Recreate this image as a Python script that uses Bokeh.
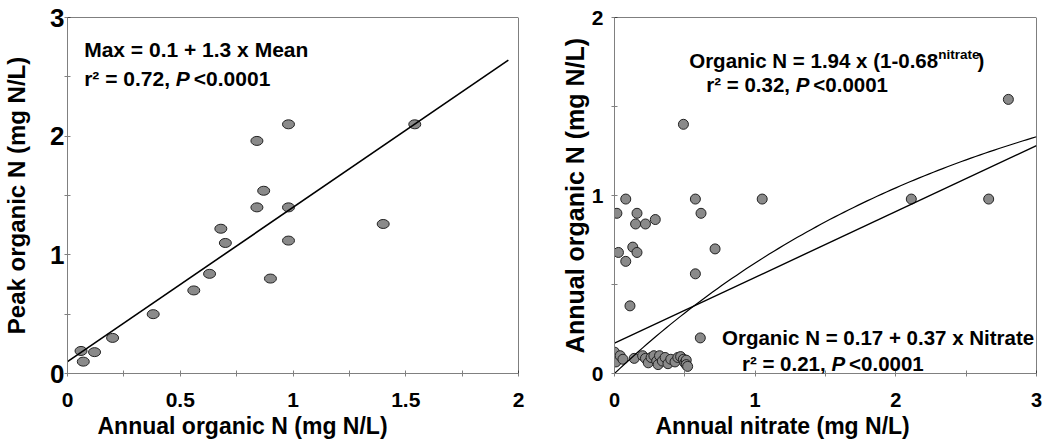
import numpy as np
from bokeh.plotting import figure
from bokeh.layouts import row
from bokeh.models import Label, Span, FixedTicker, NumeralTickFormatter, Title
from bokeh.embed import file_html
from bokeh.resources import INLINE

FONT = "Liberation Sans"

# ---------------- Left panel: annual mean vs. peak organic N ----------------
mean_org = [0.06, 0.07, 0.12, 0.20, 0.38, 0.56, 0.63, 0.68, 0.70, 0.84,
            0.87, 0.84, 0.90, 0.98, 0.98, 0.98, 1.40, 1.54]
peak_org = [0.19, 0.10, 0.18, 0.30, 0.50, 0.70, 0.84, 1.22, 1.10, 1.96,
            1.54, 1.40, 0.80, 2.10, 1.40, 1.12, 1.26, 2.10]
max_intercept, max_slope = 0.1, 1.3
max_fit_x = [0.0, 1.955]

left_x_ticks = [0, 0.5, 1, 1.5, 2]
left_x_minor = [0.25, 0.75, 1.25, 1.75]
left_y_ticks = [0, 1, 2, 3]
left_y_minor = [0.5, 1.5, 2.5]

# ---------------- Right panel: annual nitrate vs. annual organic N ----------------
nitrate = [0.017, 0.028, 0.08, 0.08, 0.11, 0.13, 0.16, 0.16, 0.15, 0.22,
           0.29, 0.49, 0.575, 0.615, 0.575, 0.61, 0.715, 1.05, 2.11, 2.66, 2.80,
           0.00, 0.01, 0.04, 0.06, 0.14, 0.20, 0.22, 0.24, 0.26, 0.28,
           0.30, 0.31, 0.32, 0.34, 0.36, 0.38, 0.40, 0.43, 0.45, 0.47,
           0.49, 0.50, 0.51, 0.51, 0.52]
annual_org = [0.90, 0.68, 0.98, 0.63, 0.38, 0.71, 0.68, 0.90, 0.84, 0.84,
              0.865, 1.40, 0.98, 0.90, 0.56, 0.20, 0.70, 0.98, 0.98, 0.98, 1.54,
              0.12, 0.065, 0.10, 0.08, 0.085, 0.10, 0.085, 0.06, 0.09, 0.10,
              0.07, 0.05, 0.10, 0.07, 0.09, 0.055, 0.08, 0.065, 0.09, 0.095,
              0.08, 0.06, 0.075, 0.05, 0.04]
lin_intercept, lin_slope = 0.17, 0.37
exp_scale, exp_base = 1.94, 0.68
fit_x_span = [0.0, 3.0]

right_x_ticks = [0, 1, 2, 3]
right_x_minor = [0.5, 1.5, 2.5]
right_y_ticks = [0, 1, 2]
right_y_minor = [0.5, 1.5]

AXIS_GREY = "#808080"
MARK_FILL = "#8a8a8a"
MARK_LINE = "#222222"

# Arial / Liberation Sans Bold advance widths (1/1000 em) used to chain text runs
ADV = {' ': 278, 'r': 389, '\u00b2': 333, '=': 584, '.': 278, ',': 278, '<': 584,
       'P': 667, '(': 333, ')': 333, '-': 333, 'x': 556, '+': 584, 'O': 778,
       'g': 611, 'a': 556, 'n': 611, 'i': 278, 'c': 556, 'N': 722, 't': 333,
       'e': 556, 'M': 833}
for d in "0123456789":
    ADV[d] = 556


def run_width(s, size):
    return sum(ADV.get(c, 556) for c in s) * size / 1000.0


def add_runs(p, x, y, runs, size):
    """Draw consecutive text runs (text, style, extra gap) from a data anchor."""
    off = 0.0
    for txt, style, gap in runs:
        off += gap
        p.add_layout(Label(x=x, y=y, x_offset=off, text=txt, text_font=FONT,
                           text_font_style=style, text_font_size=f"{size}px",
                           text_color="black", text_baseline="alphabetic",
                           text_align="left"))
        off += run_width(txt, size)
    return off


def stat_line(r2):
    return [(f"r\u00b2 = {r2}, ", "bold", 0), ("P", "bold italic", 0),
            (" <0.0001", "bold", 4)]


def style_panel(p, xt, xm, yt, ym, xsize, ysize, ylabel, ylabel_size,
                ylabel_standoff, ytick_standoff, xlabel, xlabel_offset):
    p.xgrid.visible = False
    p.ygrid.visible = False
    p.outline_line_color = None
    p.background_fill_color = "white"
    p.border_fill_color = "white"
    p.xaxis.ticker = FixedTicker(ticks=xt, minor_ticks=xm)
    p.yaxis.ticker = FixedTicker(ticks=yt, minor_ticks=ym)
    for ax in (p.xaxis[0], p.yaxis[0]):
        ax.axis_line_color = AXIS_GREY
        ax.axis_line_width = 1
        ax.major_tick_line_color = AXIS_GREY
        ax.minor_tick_line_color = AXIS_GREY
        ax.major_tick_in = 3
        ax.major_tick_out = 3
        ax.minor_tick_in = 3
        ax.minor_tick_out = 3
        ax.major_label_text_font = FONT
        ax.major_label_text_font_style = "bold"
        ax.major_label_text_color = "black"
    p.xaxis.major_label_text_font_size = f"{xsize}px"
    p.xaxis.major_label_standoff = 16
    p.yaxis.major_label_text_font_size = f"{ysize}px"
    p.yaxis.major_label_standoff = ytick_standoff
    p.yaxis.axis_label = ylabel
    p.yaxis.axis_label_text_font = FONT
    p.yaxis.axis_label_text_font_style = "bold"
    p.yaxis.axis_label_text_font_size = f"{ylabel_size}px"
    p.yaxis.axis_label_text_color = "black"
    p.yaxis.axis_label_standoff = ylabel_standoff
    # x-axis title, left-aligned under the frame
    p.add_layout(Title(text=xlabel, align="left", offset=xlabel_offset,
                       standoff=3, text_font=FONT, text_font_style="bold",
                       text_font_size="23px", text_color="black"), "below")
    # black top and right frame edges
    p.add_layout(Span(location=p.y_range.end, dimension="width",
                      line_color="black", line_width=1))
    p.add_layout(Span(location=p.x_range.end, dimension="height",
                      line_color="black", line_width=1))


# ---------------- Left figure ----------------
p1 = figure(width=545, height=444, x_range=(0, 2), y_range=(0, 3),
            output_backend="svg", toolbar_location=None,
            min_border_left=67, min_border_right=27,
            min_border_top=17, min_border_bottom=71)
style_panel(p1, left_x_ticks, left_x_minor, left_y_ticks, left_y_minor,
            21, 26, "Peak organic N (mg N/L)", 24, 17, 0,
            "Annual organic N (mg N/L)", 30)
p1.xaxis.formatter = NumeralTickFormatter(format="0.[0]")

p1.ellipse(x=mean_org, y=peak_org, width=12, height=9,
           width_units="screen", height_units="screen",
           fill_color=MARK_FILL, line_color=MARK_LINE, line_width=1)
p1.line(max_fit_x, [max_intercept + max_slope * v for v in max_fit_x],
        line_color="black", line_width=1.6)

add_runs(p1, 0.074, 2.73, [("Max = 0.1 + 1.3 x Mean", "bold", 0)], 21)
add_runs(p1, 0.074, 2.49, stat_line("0.72"), 21)

# ---------------- Right figure ----------------
p2 = figure(width=504, height=444, x_range=(0, 3), y_range=(0, 2),
            output_backend="svg", toolbar_location=None,
            min_border_left=69, min_border_right=13,
            min_border_top=17, min_border_bottom=71)
style_panel(p2, right_x_ticks, right_x_minor, right_y_ticks, right_y_minor,
            20, 21, "Annual organic N (mg N/L)", 25, 0, 8,
            "Annual nitrate (mg N/L)", 41)

p2.scatter(nitrate, annual_org, marker="circle", size=10,
           fill_color=MARK_FILL, line_color=MARK_LINE, line_width=1)
p2.line(fit_x_span, [lin_intercept + lin_slope * v for v in fit_x_span],
        line_color="black", line_width=1.4)
curve_x = np.linspace(fit_x_span[0], fit_x_span[1], 91)
p2.line(curve_x, exp_scale * (1 - exp_base ** curve_x),
        line_color="black", line_width=1.2)

main_w = add_runs(p2, 0.531, 1.761, [("Organic N = 1.94 x (1-0.68", "bold", 0)], 20.5)
p2.add_layout(Label(x=0.531, y=1.79, x_offset=main_w, text="nitrate",
                    text_font=FONT, text_font_style="bold", text_font_size="13.5px",
                    text_color="black", text_baseline="alphabetic"))
p2.add_layout(Label(x=0.531, y=1.761, x_offset=main_w + run_width("nitrate", 13.5) - 2,
                    text=")", text_font=FONT, text_font_style="bold",
                    text_font_size="20.5px", text_color="black",
                    text_baseline="alphabetic"))
add_runs(p2, 0.652, 1.626, stat_line("0.32"), 20.5)

add_runs(p2, 0.764, 0.205, [("Organic N = 0.17 + 0.37 x Nitrate", "bold", 0)], 20.5)
add_runs(p2, 0.906, 0.056, stat_line("0.21"), 20.5)

layout = row(p1, p2)
open("out.html", "w").write(file_html(layout, INLINE))
